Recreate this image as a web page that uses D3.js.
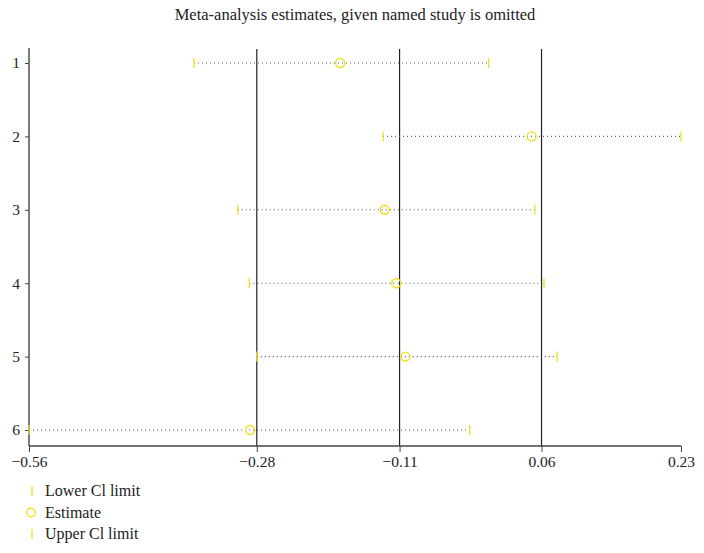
<!DOCTYPE html>
<html>
<head>
<meta charset="utf-8">
<script src="https://cdn.jsdelivr.net/npm/d3@7"></script>
<style>
  body { margin: 0; background: #fff; }
  svg text { font-family: "Liberation Serif", "DejaVu Serif", serif; fill: #222; }
</style>
</head>
<body>
<svg width="704" height="553"></svg>
<script>
// studies omitted, in order
const studies = [1, 2, 3, 4, 5, 6];
const lower = [-0.360, -0.131, -0.307, -0.293, -0.284, -0.56];
const estimate = [-0.183, 0.049, -0.129, -0.115, -0.104, -0.292];
const upper = [-0.003, 0.23, 0.053, 0.064, 0.080, -0.026];
// axis ticks sit at the overall CI / estimate (labels rounded to 2 dp)
const xTicks = [-0.56, -0.284, -0.111, 0.061, 0.23];
const refLines = [-0.284, -0.111, 0.061];
const legendLabels = ["Lower Cl limit", "Estimate", "Upper Cl limit"];

const svg = d3.select("svg");
const yellow = "#ede21a";

let x = d3.scaleLinear().domain([-0.56, 0.23]).range([29, 681]);
let y = d3.scalePoint().domain(studies).range([63, 430]);

svg.append("text")
  .attr("x", 355).attr("y", 20)
  .attr("text-anchor", "middle")
  .style("font-size", "16.5px")
  .text("Meta-analysis estimates, given named study is omitted");

// reference lines
svg.selectAll(".ref").data(refLines).join("line")
  .attr("x1", d => x(d)).attr("x2", d => x(d))
  .attr("y1", 49).attr("y2", 446)
  .attr("stroke", "#222").attr("stroke-width", 1.2);

// bottom axis
const xAxis = svg.append("g")
  .attr("transform", "translate(0,446)")
  .call(d3.axisBottom(x).tickValues(xTicks).tickSize(6).tickPadding(4));
xAxis.select(".domain").attr("stroke", "#444").attr("stroke-width", 1.3).attr("d", "M29,0H681");
xAxis.selectAll(".tick line").attr("stroke", "#444");
xAxis.selectAll("text")
  .style("font-size", "15.5px")
  .style("font-family", "Liberation Serif, serif")
  .attr("fill", "#222")
  .text(d => d3.format(".2f")(d).replace("-", "\u2212"));

// left axis
const yAxis = svg.append("g")
  .attr("transform", "translate(29,0)")
  .call(d3.axisLeft(y).tickSize(4).tickPadding(5));
yAxis.select(".domain").attr("stroke", "#222").attr("stroke-width", 1.2).attr("d", "M0,48V446");
yAxis.selectAll(".tick line").attr("stroke", "#444");
yAxis.selectAll("text")
  .style("font-size", "15.5px")
  .style("font-family", "Liberation Serif, serif")
  .attr("fill", "#222");

// dotted CI lines
svg.selectAll(".ci").data(studies).join("line")
  .attr("x1", (d, i) => x(lower[i])).attr("x2", (d, i) => x(upper[i]))
  .attr("y1", d => y(d)).attr("y2", d => y(d))
  .attr("stroke", "#555").attr("stroke-width", 1.1)
  .attr("stroke-dasharray", "1,3");

// lower and upper limits
[lower, upper].forEach(arr => {
  svg.selectAll(null).data(studies).join("line")
    .attr("x1", (d, i) => x(arr[i])).attr("x2", (d, i) => x(arr[i]))
    .attr("y1", d => y(d) - 5).attr("y2", d => y(d) + 5)
    .attr("stroke", yellow).attr("stroke-width", 1.3);
});

// estimates
svg.selectAll(".est").data(studies).join("circle")
  .attr("cx", (d, i) => x(estimate[i])).attr("cy", d => y(d))
  .attr("r", 4.5)
  .attr("fill", "none").attr("stroke", yellow).attr("stroke-width", 1.4);

// legend
const leg = svg.append("g");
legendLabels.forEach((lab, i) => {
  const ly = 491 + i * 21.5;
  if (i == 1) {
    leg.append("circle").attr("cx", 31).attr("cy", ly).attr("r", 4.2)
      .attr("fill", "none").attr("stroke", yellow).attr("stroke-width", 1.4);
  } else {
    leg.append("line").attr("x1", 32).attr("x2", 32).attr("y1", ly - 5).attr("y2", ly + 5)
      .attr("stroke", yellow).attr("stroke-width", 1.3);
  }
  leg.append("text").attr("x", 45).attr("y", ly + 5)
    .style("font-size", "16px").text(lab);
});
</script>
</body>
</html>
